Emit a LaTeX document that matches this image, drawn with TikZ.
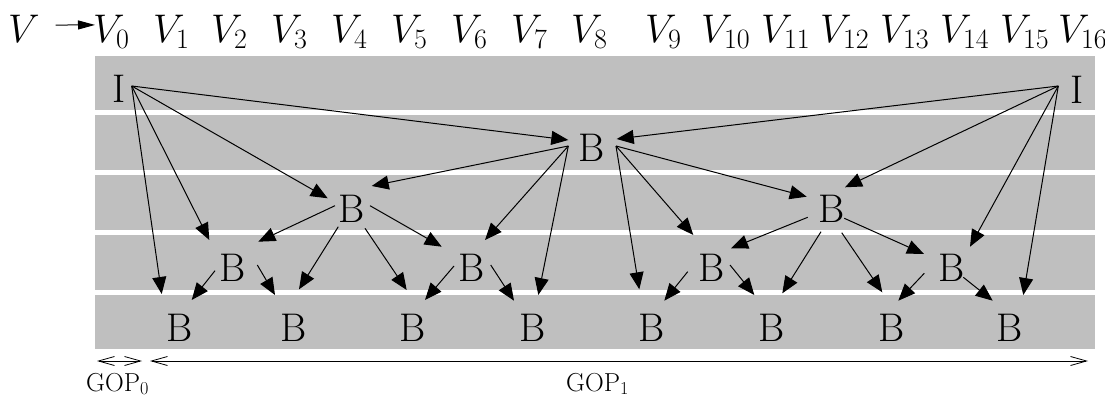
\RequirePackage{fix-cm}
\documentclass[tikz,border=0pt]{standalone}
\usepackage{fontspec}
\usetikzlibrary{arrows.meta}
\definecolor{bandgray}{RGB}{191,191,191}
\begin{document}
\begin{tikzpicture}[x=1pt,y=-1pt,
  lbl/.style={inner sep=0pt,font=\fontsize{40}{48}\selectfont},
  vl/.style={inner sep=0pt,anchor=base west,font=\fontsize{40}{48}\selectfont},
  arr/.style={line width=1pt,-{Triangle[length=17pt,width=14pt]}},
  varr/.style={line width=1pt,-{Triangle[length=17pt,width=9pt]}},
  gop/.style={line width=0.8pt,{Straight Barb[length=16pt,width=9pt]}-{Straight Barb[length=16pt,width=9pt]}},
  gl/.style={inner sep=0pt,anchor=base west,font=\fontsize{26}{30}\selectfont}]
\useasboundingbox (0,0) rectangle (1105,398);
% bands
\fill[bandgray] (95,56) rectangle (1095,110);
\fill[bandgray] (95,115.5) rectangle (1095,170);
\fill[bandgray] (95,175) rectangle (1095,230);
\fill[bandgray] (95,235) rectangle (1095,289.5);
\fill[bandgray] (95,294.5) rectangle (1095,348.5);
% top labels
\node[vl] (vv) at (8,43) {$V$};
\node[vl] (v0) at (93,43) {$V_0$};
\node[vl] (v1) at (153,43) {$V_1$};
\node[vl] (v2) at (211,43) {$V_2$};
\node[vl] (v3) at (271,43) {$V_3$};
\node[vl] (v4) at (331,43) {$V_4$};
\node[vl] (v5) at (391,43) {$V_5$};
\node[vl] (v6) at (451,43) {$V_6$};
\node[vl] (v7) at (511,43) {$V_7$};
\node[vl] (v8) at (571,43) {$V_8$};
\node[vl] (v9) at (645,43) {$V_9$};
\node[vl] (v10) at (701,43) {$V_{10}$};
\node[vl] (v11) at (761,43) {$V_{11}$};
\node[vl] (v12) at (820,43) {$V_{12}$};
\node[vl] (v13) at (880,43) {$V_{13}$};
\node[vl] (v14) at (940,43) {$V_{14}$};
\node[vl] (v15) at (1000,43) {$V_{15}$};
\node[vl] (v16) at (1058,43) {$V_{16}$};
\draw[varr] ([shift={(15.7,-4.3)}]vv.east) -- ([shift={(2,-7.4)}]v0.west);
% frame nodes
\node[lbl] (i0) at (119,89) {I};
\node[lbl] (i16) at (1077,90) {I};
\node[lbl] (b8) at (592,148) {B};
\node[lbl] (b4) at (352,209) {B};
\node[lbl] (b12) at (832,209) {B};
\node[lbl] (b2) at (233,268) {B};
\node[lbl] (b6) at (472,268) {B};
\node[lbl] (b10) at (712,268) {B};
\node[lbl] (b14) at (952,268) {B};
\node[lbl] (b1) at (180,328) {B};
\node[lbl] (b3) at (294,328) {B};
\node[lbl] (b5) at (413,328) {B};
\node[lbl] (b7) at (533,328) {B};
\node[lbl] (b9) at (652,328) {B};
\node[lbl] (b11) at (772,328) {B};
\node[lbl] (b13) at (892,328) {B};
\node[lbl] (b15) at (1010,328) {B};
% edges
\draw[arr] ([shift={(12.7,-3)}]i0.center) -- ([shift={(-23.7,-8)}]b8.center);
\draw[arr] ([shift={(12.7,-3)}]i0.center) -- ([shift={(-24.3,-10.7)}]b4.center);
\draw[arr] ([shift={(12.7,-3)}]i0.center) -- ([shift={(-23.7,-28)}]b2.center);
\draw[arr] ([shift={(12.7,-3)}]i0.center) -- ([shift={(-18.3,-34)}]b1.center);
\draw[arr] ([shift={(-18.7,-4)}]i16.center) -- ([shift={(24.7,-9)}]b8.center);
\draw[arr] ([shift={(-18.7,-4)}]i16.center) -- ([shift={(13,-21.7)}]b12.center);
\draw[arr] ([shift={(-18.7,-4)}]i16.center) -- ([shift={(18,-21.3)}]b14.center);
\draw[arr] ([shift={(-18.7,-4)}]i16.center) -- ([shift={(13.3,-33)}]b15.center);
\draw[arr] ([shift={(-23.7,-2)}]b8.center) -- ([shift={(19.7,-23)}]b4.center);
\draw[arr] ([shift={(-23.7,-2)}]b8.center) -- ([shift={(13,-28)}]b6.center);
\draw[arr] ([shift={(-23.7,-2)}]b8.center) -- ([shift={(5.3,-33)}]b7.center);
\draw[arr] ([shift={(24,-2)}]b8.center) -- ([shift={(-12.7,-38.7)}]b9.center);
\draw[arr] ([shift={(24,-2)}]b8.center) -- ([shift={(-18.7,-33)}]b10.center);
\draw[arr] ([shift={(24,-2)}]b8.center) -- ([shift={(-25.3,-12.3)}]b12.center);
\draw[arr] ([shift={(-17,-3.3)}]b4.center) -- ([shift={(25.3,-26.3)}]b2.center);
\draw[arr] ([shift={(-13.7,17.7)}]b4.center) -- ([shift={(5,-38.7)}]b3.center);
\draw[arr] ([shift={(13,19.3)}]b4.center) -- ([shift={(-6.3,-38)}]b5.center);
\draw[arr] ([shift={(18,-3.3)}]b4.center) -- ([shift={(-30.3,-21.3)}]b6.center);
\draw[arr] ([shift={(-24.3,8.3)}]b12.center) -- ([shift={(19,-19.7)}]b10.center);
\draw[arr] ([shift={(-11,22.7)}]b12.center) -- ([shift={(10.3,-34.7)}]b11.center);
\draw[arr] ([shift={(9.7,23.7)}]b12.center) -- ([shift={(-9.7,-35.7)}]b13.center);
\draw[arr] ([shift={(12.3,9.3)}]b12.center) -- ([shift={(-28,-14)}]b14.center);
\draw[arr] ([shift={(-18,2.7)}]b2.center) -- ([shift={(11.7,-28)}]b1.center);
\draw[arr] ([shift={(24.3,-3)}]b2.center) -- ([shift={(-19,-33)}]b3.center);
\draw[arr] ([shift={(-18,-2)}]b6.center) -- ([shift={(12,-28)}]b5.center);
\draw[arr] ([shift={(18.7,-3)}]b6.center) -- ([shift={(-19,-27.3)}]b7.center);
\draw[arr] ([shift={(-24.3,3.7)}]b10.center) -- ([shift={(12.3,-27.3)}]b9.center);
\draw[arr] ([shift={(18,-3)}]b10.center) -- ([shift={(-17.7,-33)}]b11.center);
\draw[arr] ([shift={(-27.7,5.3)}]b14.center) -- ([shift={(6.3,-27.3)}]b13.center);
\draw[arr] ([shift={(11.3,9.3)}]b14.center) -- ([shift={(-17.3,-27.3)}]b15.center);
% GOP
\coordinate (g0a) at (97,361);
\coordinate (g0b) at (142,361);
\coordinate (g1a) at (150,361);
\coordinate (g1b) at (1088,361);
\draw[gop] (g0a) -- (g0b);
\draw[gop] (g1a) -- (g1b);
\node[gl] (gop0) at (86,391) {GOP$_0$};
\node[gl] (gop1) at (566,391) {GOP$_1$};
\end{tikzpicture}
\end{document}
